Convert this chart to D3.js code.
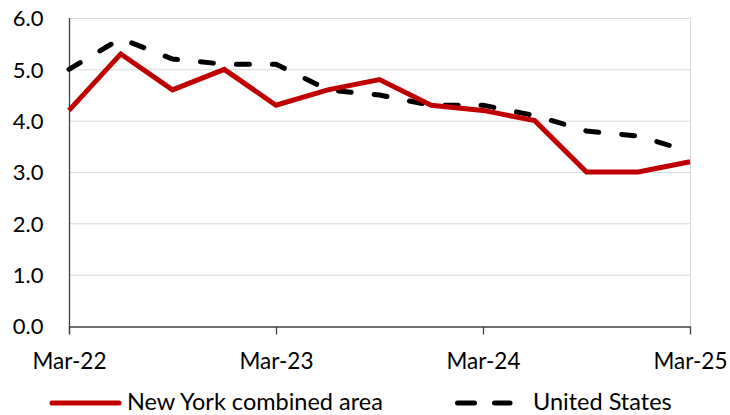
<!DOCTYPE html>
<html>
<head>
<meta charset="utf-8">
<script src="https://cdn.jsdelivr.net/npm/d3@7"></script>
<style>
body { margin: 0; background: #fff; }
text { font-family: Lato, "Open Sans", sans-serif; fill: #000; }
</style>
</head>
<body>
<svg width="730" height="415"></svg>
<script>
// quarterly points, Mar-22 .. Mar-25
var months = [0, 3, 6, 9, 12, 15, 18, 21, 24, 27, 30, 33, 36];
var nyValues = [4.2, 5.3, 4.6, 5.0, 4.3, 4.6, 4.8, 4.3, 4.2, 4.0, 3.0, 3.0, 3.2];
var usValues = [5.0, 5.6, 5.2, 5.1, 5.1, 4.6, 4.5, 4.3, 4.3, 4.1, 3.8, 3.7, 3.4];
var xTicks = [0, 12, 24, 36];
var xTickLabels = ['Mar-22', 'Mar-23', 'Mar-24', 'Mar-25'];
var yTicks = [0, 1, 2, 3, 4, 5, 6];
var seriesNames = ['New York combined area', 'United States'];

var svg = d3.select('svg');
var mLeft = 69, mRight = 690, mTop = 18, mBottom = 326;

var x = d3.scaleLinear().domain([0, 36]).range([mLeft, mRight]);
var y = d3.scaleLinear().domain([0, 6]).range([mBottom, mTop]);

// gridlines
svg.append('g').selectAll('line').data(yTicks.slice(1)).enter().append('line')
  .attr('x1', mLeft).attr('x2', mRight)
  .attr('y1', function(d){ return y(d) + 0.5; }).attr('y2', function(d){ return y(d) + 0.5; })
  .attr('stroke', '#d9d9d9').attr('stroke-width', 1);
svg.append('line').attr('x1', mRight + 0.5).attr('x2', mRight + 0.5).attr('y1', mTop).attr('y2', mBottom)
  .attr('stroke', '#d9d9d9').attr('stroke-width', 1);

// y axis
var yAxis = d3.axisLeft(y).tickValues(yTicks).tickFormat(d3.format('.1f')).tickSize(0).tickPadding(26);
var gy = svg.append('g').attr('transform', 'translate(' + (mLeft + 0.5) + ',0)').call(yAxis);
gy.select('.domain').remove();
gy.selectAll('text').style('font-size', '22px').attr('dy', '0.36em');
svg.append('line').attr('x1', mLeft + 0.5).attr('x2', mLeft + 0.5).attr('y1', mTop).attr('y2', mBottom + 8)
  .attr('stroke', '#404040').attr('stroke-width', 1.3);

// x axis
var xAxis = d3.axisBottom(x).tickValues(xTicks)
  .tickFormat(function(d, i){ return xTickLabels[i]; }).tickSizeInner(8).tickSizeOuter(0).tickPadding(0);
var gx = svg.append('g').attr('transform', 'translate(0,' + (mBottom + 0.5) + ')').call(xAxis);
gx.select('.domain').attr('stroke', '#404040').attr('stroke-width', 1.3);
gx.selectAll('.tick line').attr('stroke', '#404040').attr('stroke-width', 1.3);
gx.selectAll('text').attr('y', 42).attr('dy', null).style('font-size', '22.5px');

var line = d3.line().x(function(d){ return x(d[0]); }).y(function(d){ return y(d[1]); });

svg.append('path').datum(d3.zip(months, usValues)).attr('d', line)
  .attr('fill', 'none').attr('stroke', '#000').attr('stroke-width', 5)
  .attr('stroke-linecap', 'round').attr('stroke-dasharray', '13,23');

svg.append('path').datum(d3.zip(months, nyValues)).attr('d', line)
  .attr('fill', 'none').attr('stroke', '#c00000').attr('stroke-width', 5)
  .attr('stroke-linejoin', 'miter');

// legend
var ly = 403;
svg.append('line').attr('x1', 52).attr('x2', 119).attr('y1', ly).attr('y2', ly)
  .attr('stroke', '#c00000').attr('stroke-width', 5).attr('stroke-linecap', 'round');
svg.append('text').attr('x', 127).attr('y', 410).style('font-size', '23.5px').text(seriesNames[0]);
svg.append('line').attr('x1', 457.5).attr('x2', 510).attr('y1', ly).attr('y2', ly)
  .attr('stroke', '#000').attr('stroke-width', 5).attr('stroke-linecap', 'round').attr('stroke-dasharray', '17,20');
svg.append('text').attr('x', 533).attr('y', 410).style('font-size', '23.5px').text(seriesNames[1]);
</script>
</body>
</html>
